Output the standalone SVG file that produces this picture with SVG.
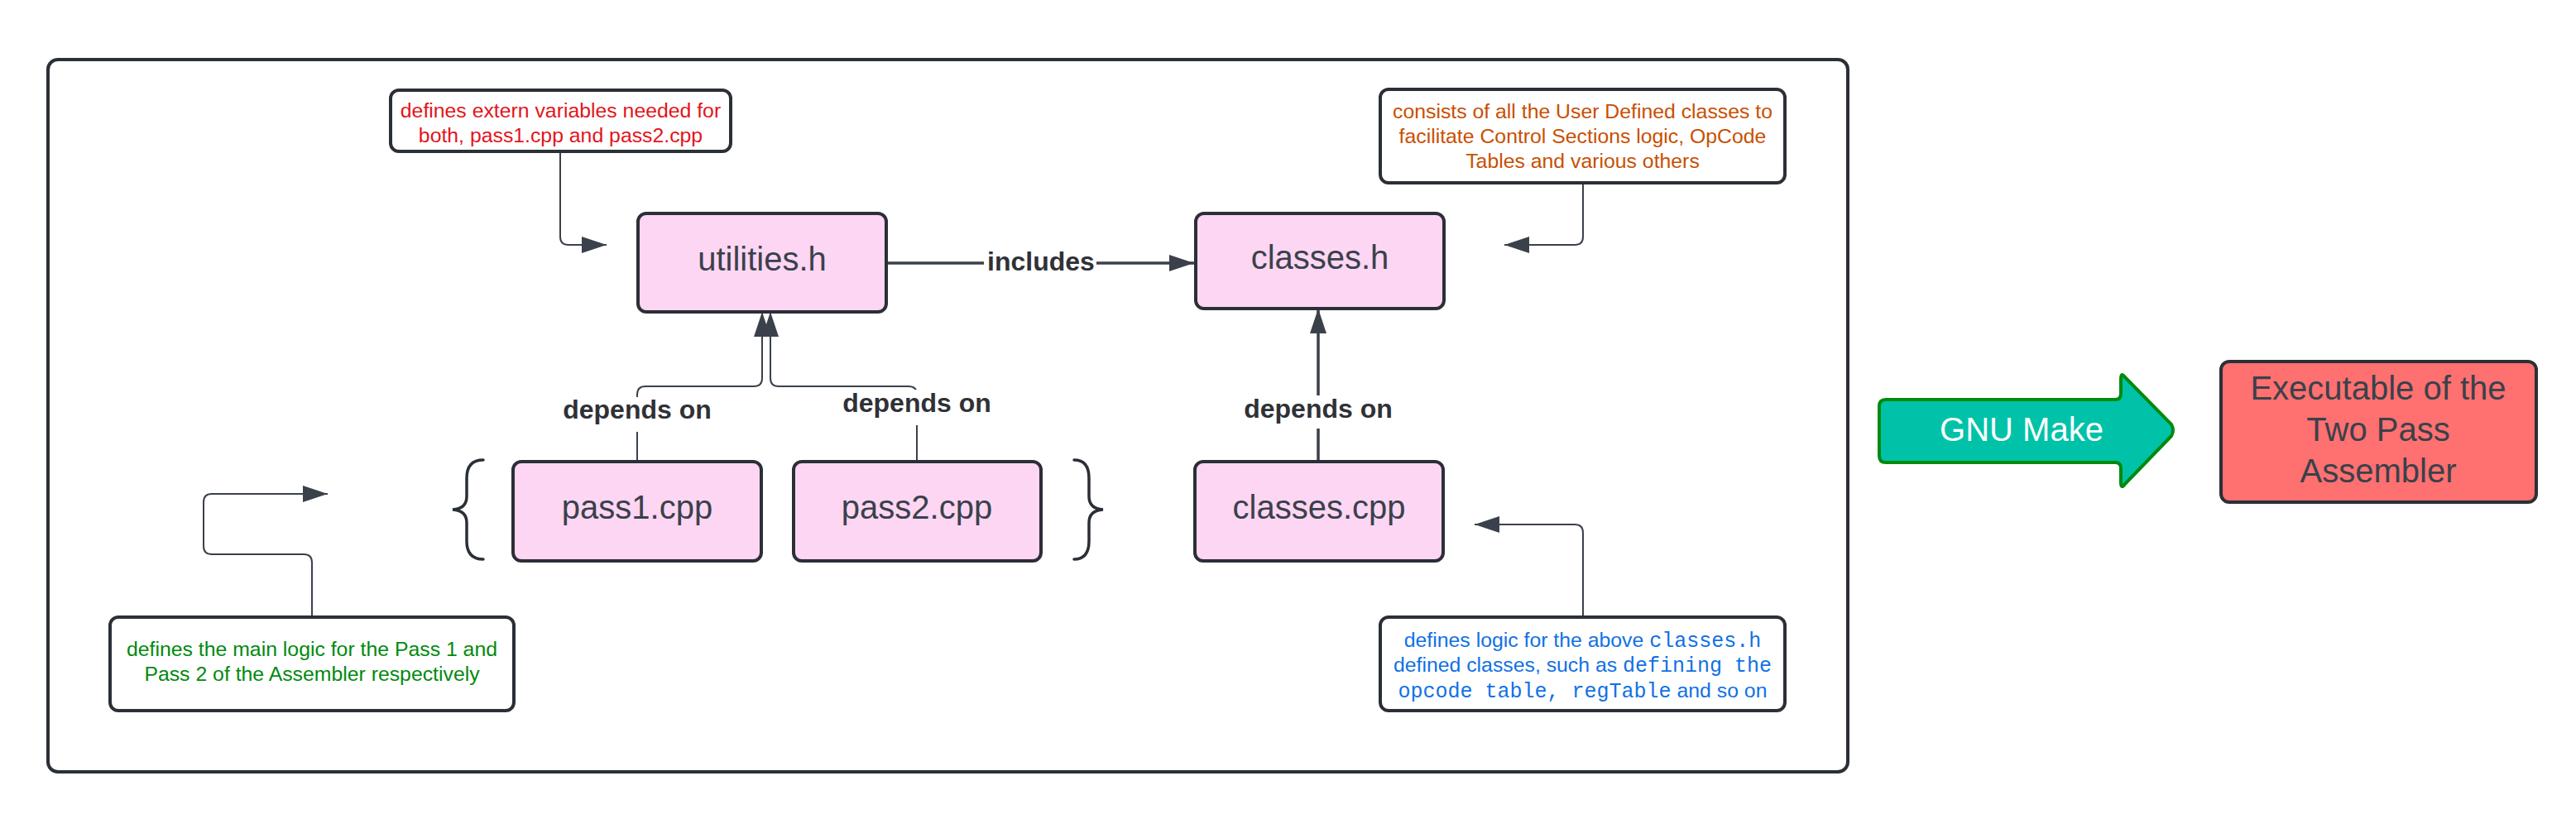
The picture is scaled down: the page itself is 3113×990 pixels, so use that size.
<svg xmlns="http://www.w3.org/2000/svg" width="3113" height="990" viewBox="0 0 3113 990">
<style>
.node{fill:#fdd6f4;stroke:#2b2f36;stroke-width:4}
.callout{fill:#ffffff;stroke:#2b2f36;stroke-width:4}
.nt{font-family:"Liberation Sans",Arial,sans-serif;font-size:40px;fill:#3a414a;text-anchor:middle}
.ct{font-family:"Liberation Sans",Arial,sans-serif;font-size:24.8px;text-anchor:middle}
.mono{font-family:"Liberation Mono","Courier New",monospace;font-size:25px}
.lbl{font-family:"Liberation Sans",Arial,sans-serif;font-size:32px;font-weight:bold;fill:#2f3136;text-anchor:middle}
.thin{fill:none;stroke:#3a414a;stroke-width:2}
.thick{fill:none;stroke:#3a414a;stroke-width:3.5}
.brace{fill:none;stroke:#2b2f36;stroke-width:3.5;stroke-linecap:round}
</style>
<defs>
<marker id="ah" viewBox="0 0 30 20" refX="30" refY="10" markerWidth="30" markerHeight="20" markerUnits="userSpaceOnUse" orient="auto">
<path d="M0,0 L30,10 L0,20 z" fill="#3a414a"/>
</marker>
</defs>
<rect width="3113" height="990" fill="#ffffff"/>
<g id="container">
<rect x="58" y="72" width="2175" height="861" rx="12" fill="#ffffff" stroke="#2b2f36" stroke-width="4"/>
</g>
<g id="connectors">
<path class="thin" d="M677,185 V286 Q677,296 687,296 H733" marker-end="url(#ah)"/>
<path class="thin" d="M1913,223 V286 Q1913,296 1903,296 H1818" marker-end="url(#ah)"/>
<path class="thin" d="M1913,744 V644 Q1913,634 1903,634 H1782" marker-end="url(#ah)"/>
<path class="thin" d="M377,744 V680 Q377,670 367,670 H256 Q246,670 246,660 V607 Q246,597 256,597 H396" marker-end="url(#ah)"/>
<path class="thick" d="M1072,318 H1443" marker-end="url(#ah)"/>
<path class="thin" d="M770,558 V477 Q770,467 780,467 H911 Q921,467 921,457 V377" marker-end="url(#ah)"/>
<path class="thin" d="M1108,558 V477 Q1108,467 1098,467 H941 Q931,467 931,457 V377" marker-end="url(#ah)"/>
<path class="thick" d="M1593,558 V373" marker-end="url(#ah)"/>
<rect x="1189" y="298" width="136" height="38" fill="#ffffff"/>
<text class="lbl" x="1258" y="327">includes</text>
<rect x="674" y="480" width="192" height="42" fill="#ffffff"/>
<text class="lbl" x="770" y="506">depends on</text>
<rect x="1012" y="471" width="192" height="43" fill="#ffffff"/>
<text class="lbl" x="1108" y="498">depends on</text>
<rect x="1497" y="478" width="192" height="40" fill="#ffffff"/>
<text class="lbl" x="1593" y="505">depends on</text>
</g>
<g id="utilities">
<rect class="node" x="771" y="258" width="300" height="119" rx="10"/>
<text class="nt" x="921" y="327">utilities.h</text>
</g>
<g id="classes_h">
<rect class="node" x="1445" y="258" width="300" height="115" rx="10"/>
<text class="nt" x="1595" y="325">classes.h</text>
</g>
<g id="pass1">
<rect class="node" x="620" y="558" width="300" height="120" rx="10"/>
<text class="nt" x="770" y="627">pass1.cpp</text>
</g>
<g id="pass2">
<rect class="node" x="959" y="558" width="299" height="120" rx="10"/>
<text class="nt" x="1108" y="627">pass2.cpp</text>
</g>
<g id="classes_cpp">
<rect class="node" x="1444" y="558" width="300" height="120" rx="10"/>
<text class="nt" x="1594" y="627">classes.cpp</text>
</g>
<g id="braces">
<path class="brace" d="M584,556 Q564,556 564,578 V600 Q564,615 547,616 Q564,617 564,632 V654 Q564,676 584,676"/>
<path class="brace" d="M1298,556 Q1316,556 1316,578 V600 Q1316,615 1333,616 Q1316,617 1316,632 V654 Q1316,676 1298,676"/>
</g>
<g id="note_utilities">
<rect class="callout" x="472" y="109" width="411" height="74" rx="10"/>
<text class="ct" fill="#e3141b"><tspan x="677.5" y="142">defines extern variables needed for</tspan><tspan x="677.5" y="172">both, pass1.cpp and pass2.cpp</tspan></text>
</g>
<g id="note_classes_h">
<rect class="callout" x="1668" y="108" width="489" height="113" rx="10"/>
<text class="ct" fill="#c94f00"><tspan x="1912.5" y="143">consists of all the User Defined classes to</tspan><tspan x="1912.5" y="173">facilitate Control Sections logic, OpCode</tspan><tspan x="1912.5" y="203">Tables and various others</tspan></text>
</g>
<g id="note_pass">
<rect class="callout" x="133" y="746" width="488" height="113" rx="10"/>
<text class="ct" fill="#008a0e"><tspan x="377" y="793">defines the main logic for the Pass 1 and</tspan><tspan x="377" y="823">Pass 2 of the Assembler respectively</tspan></text>
</g>
<g id="note_classes_cpp">
<rect class="callout" x="1668" y="746" width="489" height="113" rx="10"/>
<text class="ct" fill="#1071e5" x="1912.5" y="782">defines logic for the above <tspan class="mono">classes.h</tspan></text>
<text class="ct" fill="#1071e5" x="1912.5" y="812">defined classes, such as <tspan class="mono">defining the</tspan></text>
<text class="ct" fill="#1071e5" x="1912.5" y="843"><tspan class="mono">opcode table, regTable</tspan> and so on</text>
</g>
<g id="gnu_make">
<path d="M2271,491 Q2271,483 2279,483 H2556 Q2563,483 2563,476 V458 Q2563,449 2568,456 L2624,513 Q2628,520 2624,527 L2568,585 Q2563,592 2563,583 V566 Q2563,559 2556,559 H2279 Q2271,559 2271,551 Z" fill="#00c2a8" stroke="#008a0e" stroke-width="4" stroke-linejoin="round"/>
<text x="2443" y="533" font-family="'Liberation Sans',Arial,sans-serif" font-size="40" fill="#ffffff" text-anchor="middle">GNU Make</text>
</g>
<g id="executable">
<rect x="2684" y="437" width="381" height="170" rx="10" fill="#ff7070" stroke="#2b2f36" stroke-width="4"/>
<text class="nt" font-size="41"><tspan x="2874" y="483">Executable of the</tspan><tspan x="2874" y="533">Two Pass</tspan><tspan x="2874" y="583">Assembler</tspan></text>
</g>
</svg>
